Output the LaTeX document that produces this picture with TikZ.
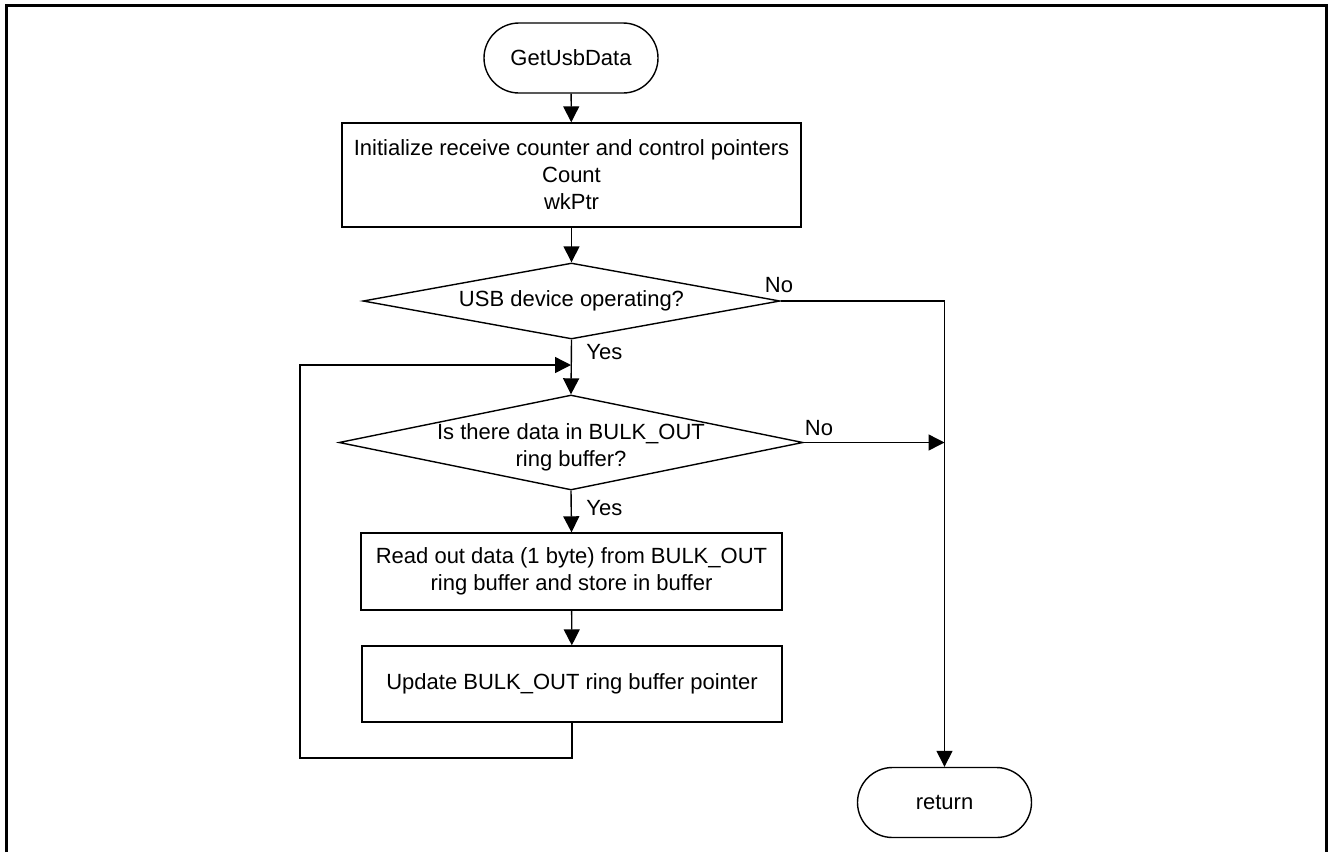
\documentclass[tikz,border=0pt]{standalone}
\usepackage{fontspec}
\setmainfont{Liberation Sans}
\usetikzlibrary{shapes.geometric,shapes.misc,arrows.meta}
\begin{document}
\begin{tikzpicture}[x=0.5pt,y=-0.5pt,
  every node/.style={font=\fontsize{11pt}{13.5pt}\selectfont},
  term/.style={draw,rounded rectangle,minimum width=87pt,minimum height=35pt,
    inner sep=0pt,line width=0.7pt},
  proc/.style={draw,rectangle,align=center,inner sep=0pt,line width=0.7pt},
  decide/.style={draw,diamond,inner sep=0pt,line width=0.7pt},
  tag/.style={inner sep=0pt},
  flow/.style={line width=0.7pt,-{Triangle[length=8pt,width=8pt]}},
  frame/.style={line width=1.5pt}
]
\useasboundingbox (0,0) rectangle (1328,852);

% page frame (open at the bottom)
\draw[frame] (6,852) -- (6,5) -- (1326,5) -- (1326,852);

% blocks
\node[term] (start) at (571,58) {GetUsbData};
\node[proc,minimum width=229.5pt,minimum height=52pt] (init) at (571.5,175)
  {Initialize receive counter and control pointers\\Count\\wkPtr};
\node[decide,minimum width=208.5pt,minimum height=38pt,
  label={center:USB device operating?}] (dev) at (571.5,301) {};
\node[decide,minimum width=232pt,minimum height=47.5pt,
  label={[align=center,yshift=-2.5pt]center:Is there data in BULK\_OUT\\ring buffer?}] (data) at (571,442.5) {};
\node[proc,minimum width=210.5pt,minimum height=38.5pt] (read) at (571.5,571.5)
  {Read out data (1 byte) from BULK\_OUT\\ring buffer and store in buffer};
\node[proc,minimum width=210pt,minimum height=38pt] (upd) at (572,684)
  {Update BULK\_OUT ring buffer pointer};
\node[term] (ret) at (944.5,802.5) {return};

% branch labels
\node[tag,anchor=west] (yes1) at (586,352.5) {Yes};
\node[tag,anchor=west] (yes2) at (586,508.5) {Yes};
\node[tag] (no1) at (779,285.5) {No};
\node[tag] (no2) at (819,428) {No};

% helper points of the loop
\coordinate (join) at (571,365);
\coordinate (loopL) at (300,758);

% connectors
\draw[flow] (start) -- (init);
\draw[flow] (init) -- (dev);
\draw[flow] (dev.south) -- (data.north);
\draw[flow] (data.south) -- (read.north);
\draw[flow] (read) -- (upd);
\draw[flow] (upd.south) |- (loopL) |- (join);
\draw[flow] (dev.east) -| (ret.north);
\draw[flow] (data.east) -- (data.east -| ret.north);
\end{tikzpicture}
\end{document}
